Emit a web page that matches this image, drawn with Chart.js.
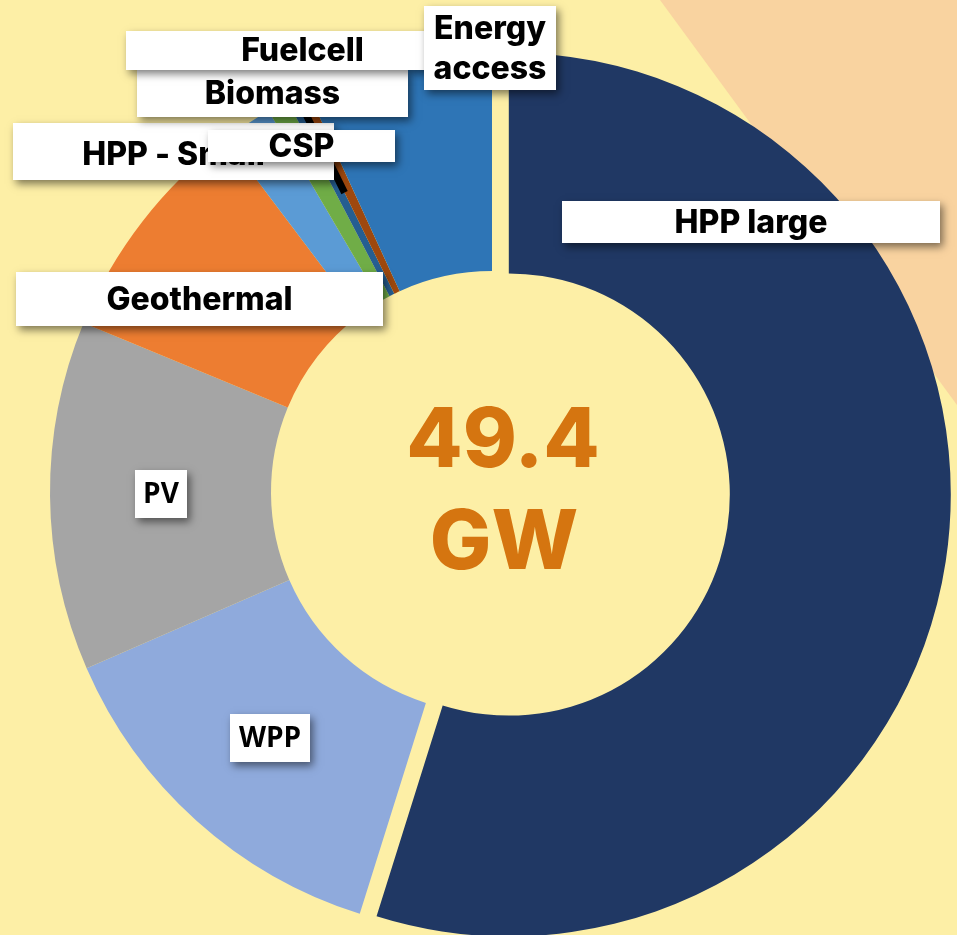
<!DOCTYPE html>
<html>
<head>
<meta charset="utf-8">
<script src="https://cdn.jsdelivr.net/npm/chart.js@4.4.1/dist/chart.umd.min.js"></script>
<style>
  html, body { margin: 0; padding: 0; background: #FDEFA6; }
  #wrap { width: 957px; height: 935px; }
</style>
</head>
<body>
<div id="wrap"><canvas id="chart" width="957" height="935"></canvas></div>
<script>
// installed capacity by source, GW
const categories  = ['HPP large', 'WPP', 'PV', 'Geothermal', 'HPP - Small', 'Biomass', 'CSP', 'Fuelcell', 'Energy access'];
const capacityGW  = [27.1, 6.74, 6.31, 4.19, 0.91, 0.38, 0.19, 0.21, 3.39];
const sliceColors = ['#203864', '#8FAADC', '#A5A5A5', '#ED7D31', '#5B9BD5', '#70AD47', '#255E91', '#9E480E', '#2E75B6'];
const unitLabel   = 'GW';

// hand placed label boxes (as in the original figure), drawn in this order
const labelLayout = [
  { name: 'HPP large',     box: [562, 201, 378, 42], font: 'main' },
  { name: 'WPP',           box: [230, 714, 80, 48],  font: 'alt' },
  { name: 'PV',            box: [135, 470, 52, 48],  font: 'alt' },
  { name: 'Geothermal',    box: [16, 272, 367, 54],  font: 'main' },
  { name: 'HPP - Small',   box: [13, 123, 321, 57],  font: 'main', dy: 3 },
  { name: 'CSP',           box: [208, 130, 187, 32], font: 'main' },
  { name: 'Biomass',       box: [137, 70, 271, 47],  font: 'main' },
  { name: 'Fuelcell',      box: [126, 31, 353, 39],  font: 'main' },
  { name: 'Energy access', box: [424, 6, 132, 84],   font: 'main', lines: ['Energy', 'access'] }
];

const explodeIdx = 0,
      explodeDist = 17;

const background = {
  id: 'background',
  beforeDraw(chart) {
    const ctx = chart.ctx;
    ctx.save();
    ctx.fillStyle = '#FDEFA6';
    ctx.fillRect(0, 0, chart.width, chart.height);
    ctx.fillStyle = '#F9D3A0';
    ctx.beginPath();
    ctx.moveTo(660, 0);
    ctx.lineTo(chart.width, 0);
    ctx.lineTo(chart.width, 405);
    ctx.closePath();
    ctx.fill();
    ctx.restore();
  }
};

// pull the big slice out along its mid angle
const explode = {
  id: 'explode',
  afterDatasetUpdate(chart, args) {
    const arc = args.meta.data[explodeIdx];
    if (!arc) return;
    const mid = (arc.startAngle + arc.endAngle) / 2;
    arc.x += Math.cos(mid) * explodeDist;
    arc.y += Math.sin(mid) * explodeDist;
  }
};

const labels = {
  id: 'labels',
  afterDatasetsDraw(chart) {
    const ctx = chart.ctx,
          arcs = chart.getDatasetMeta(0).data,
          first = arcs[1];

    // dark leader stroke along the fuelcell slice edge
    const fc = arcs[categories.indexOf('Fuelcell')];
    ctx.save();
    ctx.strokeStyle = '#000';
    ctx.lineWidth = 7;
    ctx.beginPath();
    ctx.moveTo(fc.x + Math.cos(fc.startAngle) * fc.outerRadius * 0.755, fc.y + Math.sin(fc.startAngle) * fc.outerRadius * 0.755);
    ctx.lineTo(fc.x + Math.cos(fc.startAngle) * fc.outerRadius * 1.05, fc.y + Math.sin(fc.startAngle) * fc.outerRadius * 1.05);
    ctx.stroke();
    ctx.restore();

    // total in the hole
    const total = capacityGW.reduce((a, b) => a + b, 0);
    ctx.save();
    ctx.fillStyle = '#D57510';
    ctx.font = '800 82px Inter';
    ctx.textAlign = 'center';
    ctx.textBaseline = 'middle';
    ctx.fillText(total.toFixed(1), first.x + 11, first.y - 50);
    ctx.fillText(unitLabel, first.x + 12, first.y + 52);
    ctx.restore();

    labelLayout.forEach(function(item) {
      const [x, y, w, h] = item.box,
            lines = item.lines || [item.name];
      ctx.save();
      ctx.shadowColor = 'rgba(0,0,0,0.5)';
      ctx.shadowBlur = 8;
      ctx.shadowOffsetX = 3;
      ctx.shadowOffsetY = 4;
      ctx.fillStyle = '#fff';
      ctx.fillRect(x, y, w, h);
      ctx.restore();

      ctx.save();
      ctx.fillStyle = '#000';
      ctx.textAlign = 'center';
      ctx.textBaseline = 'middle';
      ctx.font = item.font === 'alt' ? 'bold 28px "Open Sans"' : '800 32px Inter';
      lines.forEach(function(line, i) {
        const dy = (i - (lines.length - 1) / 2) * 40 + (item.dy || 0);
        ctx.fillText(line, x + w / 2, y + h / 2 + dy + 1);
      });
      ctx.restore();
    });
  }
};

new Chart(document.getElementById('chart').getContext('2d'), {
  type: 'doughnut',
  data: {
    labels: categories,
    datasets: [{
      data: capacityGW,
      backgroundColor: sliceColors,
      borderWidth: 0
    }]
  },
  options: {
    responsive: false,
    animation: false,
    events: [],
    cutout: '50%',
    layout: { padding: { left: 50, right: 23, top: 50, bottom: 1 } },
    plugins: {
      legend: { display: false },
      tooltip: { enabled: false }
    }
  },
  plugins: [background, explode, labels]
});
</script>
</body>
</html>
